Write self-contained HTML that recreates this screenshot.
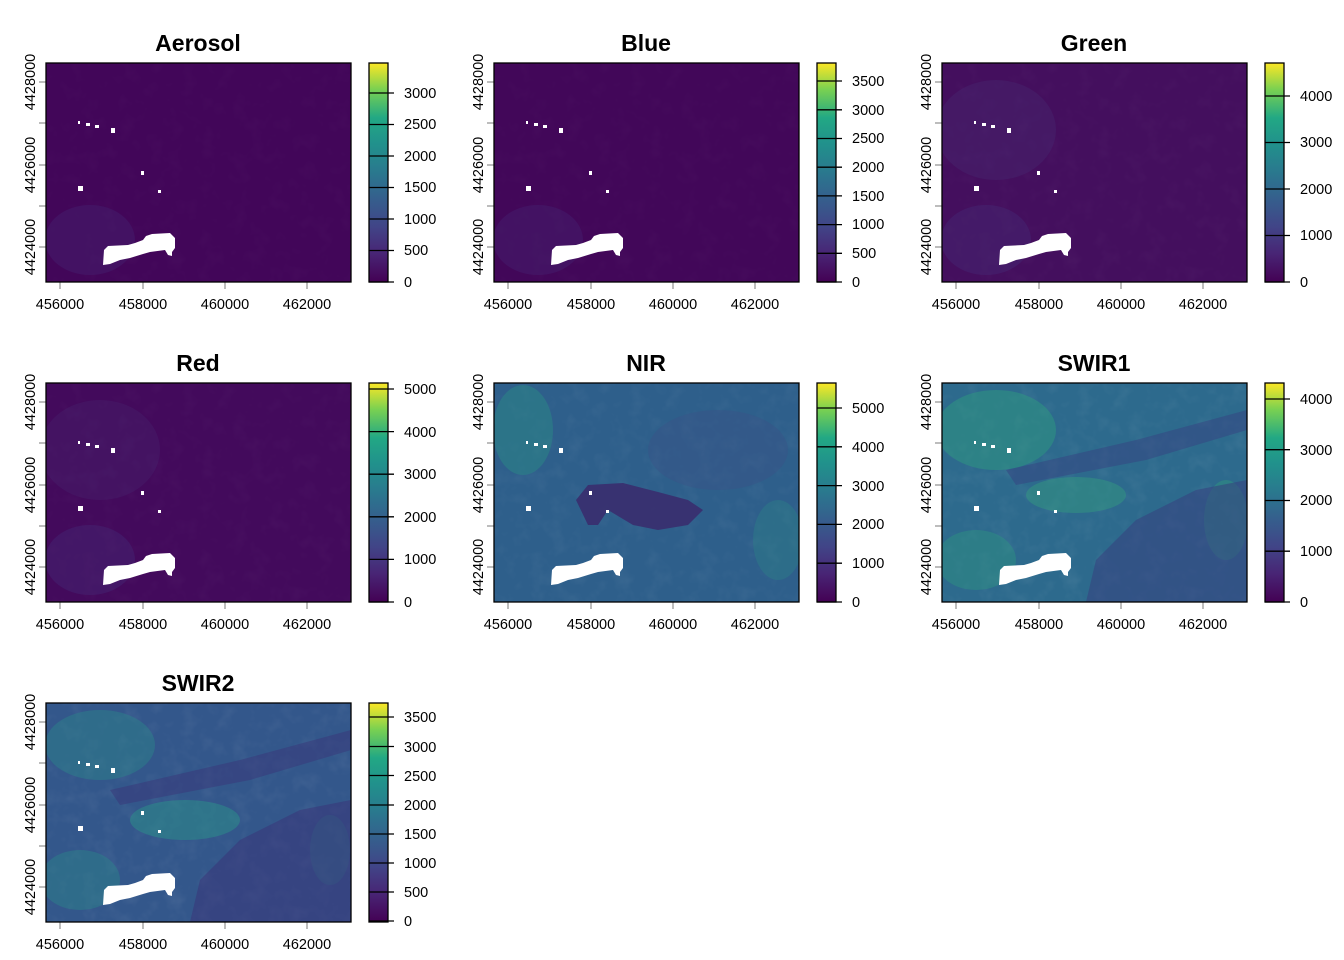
<!DOCTYPE html>
<html><head><meta charset="utf-8"><style>
html,body{margin:0;padding:0;background:#fff}
svg{display:block}
text{font-family:"Liberation Sans",Arial,sans-serif;fill:#000}
.t{font-size:23px;font-weight:bold;text-anchor:middle}
.l{font-size:14.5px}
.xl{text-anchor:middle}
.yl{text-anchor:middle}
</style></head><body>
<svg width="1344" height="960" viewBox="0 0 1344 960" xmlns="http://www.w3.org/2000/svg">
<defs>
<clipPath id="cp"><rect x="46" y="63" width="305" height="219"/></clipPath>
<linearGradient id="vir" x1="0" y1="1" x2="0" y2="0">
<stop offset="0" stop-color="#440154"/><stop offset="0.13" stop-color="#482575"/>
<stop offset="0.25" stop-color="#414487"/><stop offset="0.38" stop-color="#355f8d"/>
<stop offset="0.5" stop-color="#2a788e"/><stop offset="0.63" stop-color="#21918c"/>
<stop offset="0.75" stop-color="#22a884"/><stop offset="0.88" stop-color="#7ad151"/>
<stop offset="1" stop-color="#fde725"/></linearGradient>
<filter id="noise" x="0" y="0" width="100%" height="100%">
<feTurbulence type="fractalNoise" baseFrequency="0.06" numOctaves="3" seed="4"/>
<feColorMatrix type="matrix" values="0 0 0 0 1  0 0 0 0 1  0 0 0 0 1  0 0 0 1.2 -0.55"/>
</filter>
<g id="lake">
<polygon fill="#fff" points="103,265 104,250 108,246 128,245 135,243 143,240 146,236 152,234 170,233 175,238 175,248 172,252 172,256 168,255 165,250 150,252 143,254 130,258 120,260 110,264"/>
<rect fill="#fff" x="78" y="121" width="2" height="3"/><rect fill="#fff" x="86" y="123" width="4" height="3"/>
<rect fill="#fff" x="95" y="125" width="4" height="3"/><rect fill="#fff" x="111" y="128" width="4" height="5"/>
<rect fill="#fff" x="141" y="171" width="3" height="4"/><rect fill="#fff" x="78" y="186" width="5" height="5"/>
<rect fill="#fff" x="158" y="190" width="3" height="3"/>
</g>
<g id="axes">
<g stroke="#999" stroke-width="1.3">
<line x1="60" y1="282" x2="60" y2="289"/><line x1="143" y1="282" x2="143" y2="289"/>
<line x1="225" y1="282" x2="225" y2="289"/><line x1="307" y1="282" x2="307" y2="289"/>
<line x1="39" y1="82" x2="46" y2="82"/><line x1="39" y1="123" x2="46" y2="123"/>
<line x1="39" y1="165" x2="46" y2="165"/><line x1="39" y1="206" x2="46" y2="206"/>
<line x1="39" y1="247" x2="46" y2="247"/></g>
<rect x="46" y="63" width="305" height="219" fill="none" stroke="#000" stroke-width="1.3"/>
<rect x="369" y="63" width="19" height="219" fill="url(#vir)" stroke="#000" stroke-width="1.3"/>
</g>
</defs>

<!-- Panel 1 Aerosol -->
<g>
<g clip-path="url(#cp)">
<rect x="46" y="63" width="305" height="219" fill="#420659"/>
<rect x="46" y="63" width="305" height="219" filter="url(#noise)" opacity="0.03"/>
<ellipse cx="90" cy="240" rx="45" ry="35" fill="#46307a" opacity="0.3"/>
</g>
<use href="#lake"/><use href="#axes"/>
<text class="t" x="198" y="51">Aerosol</text>
<g class="l xl"><text x="60" y="309">456000</text><text x="143" y="309">458000</text><text x="225" y="309">460000</text><text x="307" y="309">462000</text></g>
<g class="l yl"><text transform="translate(35,82) rotate(-90)">4428000</text><text transform="translate(35,165) rotate(-90)">4426000</text><text transform="translate(35,247) rotate(-90)">4424000</text></g>
<g stroke="#000" stroke-width="1.3"><line x1="369" y1="282" x2="394" y2="282"/><line x1="369" y1="250.5" x2="394" y2="250.5"/><line x1="369" y1="219" x2="394" y2="219"/><line x1="369" y1="187.5" x2="394" y2="187.5"/><line x1="369" y1="156" x2="394" y2="156"/><line x1="369" y1="124.5" x2="394" y2="124.5"/><line x1="369" y1="93" x2="394" y2="93"/></g>
<g class="l"><text x="404" y="287">0</text><text x="404" y="255">500</text><text x="404" y="224">1000</text><text x="404" y="192">1500</text><text x="404" y="161">2000</text><text x="404" y="129">2500</text><text x="404" y="98">3000</text></g>
</g>

<!-- Panel 2 Blue -->
<g transform="translate(448,0)">
<g clip-path="url(#cp)">
<rect x="46" y="63" width="305" height="219" fill="#420759"/>
<rect x="46" y="63" width="305" height="219" filter="url(#noise)" opacity="0.03"/>
<ellipse cx="90" cy="240" rx="45" ry="35" fill="#46307a" opacity="0.3"/>
</g>
<use href="#lake"/><use href="#axes"/>
<text class="t" x="198" y="51">Blue</text>
<g class="l xl"><text x="60" y="309">456000</text><text x="143" y="309">458000</text><text x="225" y="309">460000</text><text x="307" y="309">462000</text></g>
<g class="l yl"><text transform="translate(35,82) rotate(-90)">4428000</text><text transform="translate(35,165) rotate(-90)">4426000</text><text transform="translate(35,247) rotate(-90)">4424000</text></g>
<g stroke="#000" stroke-width="1.3"><line x1="369" y1="282" x2="394" y2="282"/><line x1="369" y1="253.3" x2="394" y2="253.3"/><line x1="369" y1="224.6" x2="394" y2="224.6"/><line x1="369" y1="195.9" x2="394" y2="195.9"/><line x1="369" y1="167.2" x2="394" y2="167.2"/><line x1="369" y1="138.5" x2="394" y2="138.5"/><line x1="369" y1="109.8" x2="394" y2="109.8"/><line x1="369" y1="81" x2="394" y2="81"/></g>
<g class="l"><text x="404" y="287">0</text><text x="404" y="258">500</text><text x="404" y="229">1000</text><text x="404" y="201">1500</text><text x="404" y="172">2000</text><text x="404" y="143">2500</text><text x="404" y="115">3000</text><text x="404" y="86">3500</text></g>
</g>

<!-- Panel 3 Green -->
<g transform="translate(896,0)">
<g clip-path="url(#cp)">
<rect x="46" y="63" width="305" height="219" fill="#440f5e"/>
<rect x="46" y="63" width="305" height="219" filter="url(#noise)" opacity="0.04"/>
<ellipse cx="100" cy="130" rx="60" ry="50" fill="#47367c" opacity="0.25"/>
<ellipse cx="90" cy="240" rx="45" ry="35" fill="#46307a" opacity="0.35"/>
</g>
<use href="#lake"/><use href="#axes"/>
<text class="t" x="198" y="51">Green</text>
<g class="l xl"><text x="60" y="309">456000</text><text x="143" y="309">458000</text><text x="225" y="309">460000</text><text x="307" y="309">462000</text></g>
<g class="l yl"><text transform="translate(35,82) rotate(-90)">4428000</text><text transform="translate(35,165) rotate(-90)">4426000</text><text transform="translate(35,247) rotate(-90)">4424000</text></g>
<g stroke="#000" stroke-width="1.3"><line x1="369" y1="282" x2="394" y2="282"/><line x1="369" y1="235.5" x2="394" y2="235.5"/><line x1="369" y1="189" x2="394" y2="189"/><line x1="369" y1="142.5" x2="394" y2="142.5"/><line x1="369" y1="96" x2="394" y2="96"/></g>
<g class="l"><text x="404" y="287">0</text><text x="404" y="240">1000</text><text x="404" y="194">2000</text><text x="404" y="147">3000</text><text x="404" y="101">4000</text></g>
</g>

<!-- Panel 4 Red -->
<g transform="translate(0,320)">
<g clip-path="url(#cp)">
<rect x="46" y="63" width="305" height="219" fill="#430a5c"/>
<rect x="46" y="63" width="305" height="219" filter="url(#noise)" opacity="0.04"/>
<ellipse cx="100" cy="130" rx="60" ry="50" fill="#47367c" opacity="0.22"/>
<ellipse cx="90" cy="240" rx="45" ry="35" fill="#46307a" opacity="0.35"/>
</g>
<use href="#lake"/><use href="#axes"/>
<text class="t" x="198" y="51">Red</text>
<g class="l xl"><text x="60" y="309">456000</text><text x="143" y="309">458000</text><text x="225" y="309">460000</text><text x="307" y="309">462000</text></g>
<g class="l yl"><text transform="translate(35,82) rotate(-90)">4428000</text><text transform="translate(35,165) rotate(-90)">4426000</text><text transform="translate(35,247) rotate(-90)">4424000</text></g>
<g stroke="#000" stroke-width="1.3"><line x1="369" y1="282" x2="394" y2="282"/><line x1="369" y1="239.4" x2="394" y2="239.4"/><line x1="369" y1="196.8" x2="394" y2="196.8"/><line x1="369" y1="154.2" x2="394" y2="154.2"/><line x1="369" y1="111.6" x2="394" y2="111.6"/><line x1="369" y1="69" x2="394" y2="69"/></g>
<g class="l"><text x="404" y="287">0</text><text x="404" y="244">1000</text><text x="404" y="202">2000</text><text x="404" y="159">3000</text><text x="404" y="117">4000</text><text x="404" y="74">5000</text></g>
</g>

<!-- Panel 5 NIR -->
<g transform="translate(448,320)">
<g clip-path="url(#cp)">
<rect x="46" y="63" width="305" height="219" fill="#2e5f8b"/>
<rect x="46" y="63" width="305" height="219" filter="url(#noise)" opacity="0.08"/>
<ellipse cx="75" cy="110" rx="30" ry="45" fill="#2a8f86" opacity="0.45"/>
<ellipse cx="330" cy="220" rx="25" ry="40" fill="#2a8f86" opacity="0.3"/>
<ellipse cx="270" cy="130" rx="70" ry="40" fill="#3b4f88" opacity="0.35"/>
<polygon fill="#3a2a6c" opacity="0.85" points="128,180 140,165 175,163 210,172 240,180 255,190 240,205 210,210 185,205 160,190 150,205 140,205"/>
</g>
<use href="#lake"/><use href="#axes"/>
<text class="t" x="198" y="51">NIR</text>
<g class="l xl"><text x="60" y="309">456000</text><text x="143" y="309">458000</text><text x="225" y="309">460000</text><text x="307" y="309">462000</text></g>
<g class="l yl"><text transform="translate(35,82) rotate(-90)">4428000</text><text transform="translate(35,165) rotate(-90)">4426000</text><text transform="translate(35,247) rotate(-90)">4424000</text></g>
<g stroke="#000" stroke-width="1.3"><line x1="369" y1="282" x2="394" y2="282"/><line x1="369" y1="243.2" x2="394" y2="243.2"/><line x1="369" y1="204.4" x2="394" y2="204.4"/><line x1="369" y1="165.6" x2="394" y2="165.6"/><line x1="369" y1="126.8" x2="394" y2="126.8"/><line x1="369" y1="88" x2="394" y2="88"/></g>
<g class="l"><text x="404" y="287">0</text><text x="404" y="248">1000</text><text x="404" y="209">2000</text><text x="404" y="171">3000</text><text x="404" y="132">4000</text><text x="404" y="93">5000</text></g>
</g>

<!-- Panel 6 SWIR1 -->
<g transform="translate(896,320)">
<g clip-path="url(#cp)">
<rect x="46" y="63" width="305" height="219" fill="#2d6a8d"/>
<rect x="46" y="63" width="305" height="219" filter="url(#noise)" opacity="0.1"/>
<ellipse cx="100" cy="110" rx="60" ry="40" fill="#2fa07e" opacity="0.45"/>
<ellipse cx="180" cy="175" rx="50" ry="18" fill="#35a67c" opacity="0.4"/>
<ellipse cx="80" cy="240" rx="40" ry="30" fill="#2fa07e" opacity="0.35"/>
<ellipse cx="330" cy="200" rx="22" ry="40" fill="#2fa07e" opacity="0.4"/>
<polygon fill="#373f80" opacity="0.55" points="190,282 200,240 240,200 300,170 351,160 351,282"/>
<polygon fill="#373f80" opacity="0.45" points="110,150 240,120 351,90 351,110 250,140 120,165"/>
</g>
<use href="#lake"/><use href="#axes"/>
<text class="t" x="198" y="51">SWIR1</text>
<g class="l xl"><text x="60" y="309">456000</text><text x="143" y="309">458000</text><text x="225" y="309">460000</text><text x="307" y="309">462000</text></g>
<g class="l yl"><text transform="translate(35,82) rotate(-90)">4428000</text><text transform="translate(35,165) rotate(-90)">4426000</text><text transform="translate(35,247) rotate(-90)">4424000</text></g>
<g stroke="#000" stroke-width="1.3"><line x1="369" y1="282" x2="394" y2="282"/><line x1="369" y1="231.2" x2="394" y2="231.2"/><line x1="369" y1="180.5" x2="394" y2="180.5"/><line x1="369" y1="129.7" x2="394" y2="129.7"/><line x1="369" y1="79" x2="394" y2="79"/></g>
<g class="l"><text x="404" y="287">0</text><text x="404" y="236">1000</text><text x="404" y="185">2000</text><text x="404" y="135">3000</text><text x="404" y="84">4000</text></g>
</g>

<!-- Panel 7 SWIR2 -->
<g transform="translate(0,640)">
<g clip-path="url(#cp)">
<rect x="46" y="63" width="305" height="219" fill="#33578b"/>
<rect x="46" y="63" width="305" height="219" filter="url(#noise)" opacity="0.1"/>
<ellipse cx="100" cy="105" rx="55" ry="35" fill="#2a8c8a" opacity="0.4"/>
<ellipse cx="185" cy="180" rx="55" ry="20" fill="#2a998a" opacity="0.45"/>
<ellipse cx="80" cy="240" rx="40" ry="30" fill="#2a8c8a" opacity="0.4"/>
<ellipse cx="330" cy="210" rx="20" ry="35" fill="#2a8c8a" opacity="0.3"/>
<polygon fill="#3a3278" opacity="0.5" points="190,282 200,240 240,200 300,170 351,160 351,282"/>
<polygon fill="#3a3278" opacity="0.45" points="110,150 240,120 351,90 351,110 250,140 120,165"/>
</g>
<use href="#lake"/><use href="#axes"/>
<text class="t" x="198" y="51">SWIR2</text>
<g class="l xl"><text x="60" y="309">456000</text><text x="143" y="309">458000</text><text x="225" y="309">460000</text><text x="307" y="309">462000</text></g>
<g class="l yl"><text transform="translate(35,82) rotate(-90)">4428000</text><text transform="translate(35,165) rotate(-90)">4426000</text><text transform="translate(35,247) rotate(-90)">4424000</text></g>
<g stroke="#000" stroke-width="1.3"><line x1="369" y1="281" x2="394" y2="281"/><line x1="369" y1="252" x2="394" y2="252"/><line x1="369" y1="223" x2="394" y2="223"/><line x1="369" y1="194" x2="394" y2="194"/><line x1="369" y1="165" x2="394" y2="165"/><line x1="369" y1="135.5" x2="394" y2="135.5"/><line x1="369" y1="106.5" x2="394" y2="106.5"/><line x1="369" y1="77" x2="394" y2="77"/></g>
<g class="l"><text x="404" y="286">0</text><text x="404" y="257">500</text><text x="404" y="228">1000</text><text x="404" y="199">1500</text><text x="404" y="170">2000</text><text x="404" y="141">2500</text><text x="404" y="112">3000</text><text x="404" y="82">3500</text></g>
</g>
</svg>
</body></html>
